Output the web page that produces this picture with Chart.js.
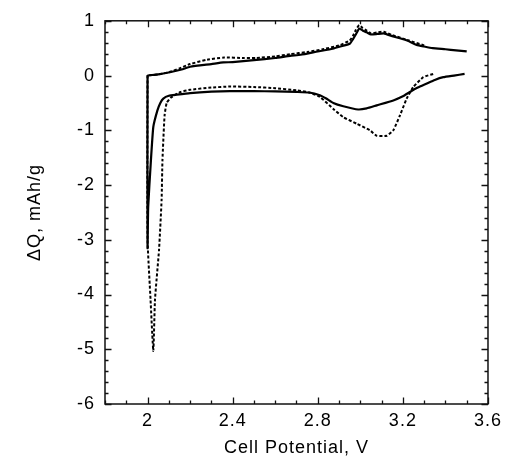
<!DOCTYPE html>
<html><head><meta charset="utf-8">
<script src="https://cdn.jsdelivr.net/npm/chart.js@4"></script>
<style>html,body{margin:0;padding:0;background:#fff}#wrap{width:508px;height:474px}</style>
</head><body><div id="wrap"><canvas id="c" width="508" height="474"></canvas></div>
<script>
// Solid curve: top branch (3.5 V back to 2.0 V), vertical drop, bottom branch
const solidV = [3.50,3.45,3.40,3.34,3.30,3.265,3.22,3.186,3.15,3.11,3.08,3.05,3.03,3.012,2.995,2.98,2.965,2.95,2.92,2.87,2.80,2.72,2.67,2.60,2.50,2.40,2.356,2.30,2.20,2.16,2.105,2.05,2.008,2.0,
  2.0,2.003,2.015,2.027,2.046,2.06,2.074,2.10,2.137,2.20,2.30,2.387,2.50,2.60,2.70,2.76,2.81,2.84,2.873,2.92,2.99,3.03,3.077,3.155,3.20,3.233,3.27,3.31,3.35,3.39,3.44,3.49];
const solidQ = [0.44,0.46,0.48,0.50,0.53,0.56,0.64,0.68,0.72,0.77,0.76,0.75,0.79,0.82,0.86,0.76,0.66,0.58,0.545,0.49,0.44,0.38,0.36,0.32,0.28,0.245,0.24,0.21,0.16,0.11,0.06,0.02,0.005,0.0,
  -3.15,-2.4,-1.6,-0.94,-0.64,-0.50,-0.42,-0.37,-0.35,-0.32,-0.295,-0.285,-0.285,-0.29,-0.30,-0.31,-0.36,-0.42,-0.50,-0.56,-0.62,-0.60,-0.545,-0.455,-0.38,-0.30,-0.22,-0.15,-0.08,-0.03,0.0,0.03];
// Dotted curve
const dashV = [3.30,3.22,3.15,3.11,3.08,3.05,3.03,3.01,2.995,2.98,2.965,2.95,2.90,2.83,2.75,2.67,2.60,2.51,2.45,2.36,2.28,2.20,2.15,2.10,2.05,2.005,2.0,
  2.0,2.014,2.027,2.035,2.054,2.066,2.070,2.080,2.090,2.110,2.155,2.20,2.30,2.387,2.50,2.60,2.70,2.76,2.81,2.873,2.92,2.983,3.045,3.077,3.124,3.155,3.186,3.218,3.249,3.296,3.343];
const dashQ = [0.55,0.65,0.74,0.80,0.79,0.77,0.82,0.87,0.92,0.84,0.72,0.64,0.55,0.485,0.43,0.39,0.35,0.32,0.32,0.33,0.29,0.21,0.13,0.06,0.02,0.005,0.0,
  -3.0,-4.09,-5.03,-4.09,-3.18,-2.27,-1.55,-0.73,-0.50,-0.40,-0.30,-0.26,-0.22,-0.20,-0.21,-0.23,-0.27,-0.31,-0.39,-0.61,-0.76,-0.88,-1.00,-1.10,-1.10,-1.00,-0.73,-0.42,-0.21,-0.03,0.03];
const xTickValues = [2, 2.4, 2.8, 3.2, 3.6];
const yTickValues = [-6, -5, -4, -3, -2, -1, 0, 1];
const xTitle = 'Cell Potential, V';
const yTitle = 'ΔQ, mAh/g';

const pts = (xs, ys) => xs.map((v, i) => ({x: v, y: ys[i]}));
const FONT = {family: '"Liberation Sans", Arial, sans-serif', size: 18};

const spacingPlugin = {
  id: 'spacing',
  beforeUpdate(chart) { chart.ctx.letterSpacing = '1px'; },
  beforeDraw(chart) { chart.ctx.letterSpacing = '1px'; }
};

const framePlugin = {
  id: 'frame',
  afterDraw(chart) {
    const {ctx, chartArea: a, scales: {x, y}} = chart;
    ctx.save();
    ctx.strokeStyle = '#111';
    ctx.lineWidth = 1.5;
    ctx.strokeRect(a.left, a.top, a.right - a.left, a.bottom - a.top);
    ctx.lineWidth = 1.3;
    ctx.beginPath();
    for (let i = 0; i <= 18; i++) {
      const v = x.min + i * 0.1;
      const px = Math.round(x.getPixelForValue(v)) + 0.5;
      const major = xTickValues.some(t => Math.abs(t - v) < 1e-6);
      const L = major ? 6.5 : 3.5;
      ctx.moveTo(px, a.bottom); ctx.lineTo(px, a.bottom - L);
      ctx.moveTo(px, a.top); ctx.lineTo(px, a.top + L);
    }
    for (let i = 0; i <= 35; i++) {
      const v = y.min + i * 0.2;
      const py = Math.round(y.getPixelForValue(v)) + 0.5;
      const major = yTickValues.some(t => Math.abs(t - v) < 1e-6);
      const L = major ? 6.5 : 3.5;
      ctx.moveTo(a.left, py); ctx.lineTo(a.left + L, py);
      ctx.moveTo(a.right, py); ctx.lineTo(a.right - L, py);
    }
    ctx.stroke();
    ctx.restore();
  }
};

const canvas = document.getElementById('c');
canvas.getContext('2d').letterSpacing = '1px';

new Chart(canvas, {
  type: 'scatter',
  data: {
    datasets: [
      {data: pts(solidV, solidQ), showLine: true, borderColor: '#000', borderWidth: 2.2, pointRadius: 0, fill: false, tension: 0.15},
      {data: pts(dashV, dashQ), showLine: true, borderColor: '#000', borderWidth: 2, borderDash: [3, 2], pointRadius: 0, fill: false, tension: 0.15}
    ]
  },
  options: {
    responsive: false,
    animation: false,
    events: [],
    layout: {padding: {top: 19, right: 20, left: 0, bottom: 0}},
    plugins: {legend: {display: false}, tooltip: {enabled: false}},
    scales: {
      x: {
        type: 'linear', min: 1.8, max: 3.6,
        afterBuildTicks: s => { s.ticks = xTickValues.map(v => ({value: v})); },
        afterFit: s => { s.height = 70; },
        ticks: {font: FONT, color: '#000', padding: 6, maxRotation: 0, autoSkip: false, callback: v => String(v)},
        grid: {display: false, drawTicks: false},
        border: {display: false},
        title: {display: true, text: xTitle, font: FONT, color: '#000', padding: {top: 0, bottom: 15}}
      },
      y: {
        type: 'linear', min: -6, max: 1,
        afterBuildTicks: s => { s.ticks = yTickValues.map(v => ({value: v})); },
        afterFit: s => { s.width = 105; },
        ticks: {font: FONT, color: '#000', padding: 10, autoSkip: false, callback: v => String(v)},
        grid: {display: false, drawTicks: false},
        border: {display: false},
        title: {display: true, text: yTitle, font: FONT, color: '#000', padding: {top: 24, bottom: 0}}
      }
    }
  },
  plugins: [spacingPlugin, framePlugin]
});
</script>
</body></html>
